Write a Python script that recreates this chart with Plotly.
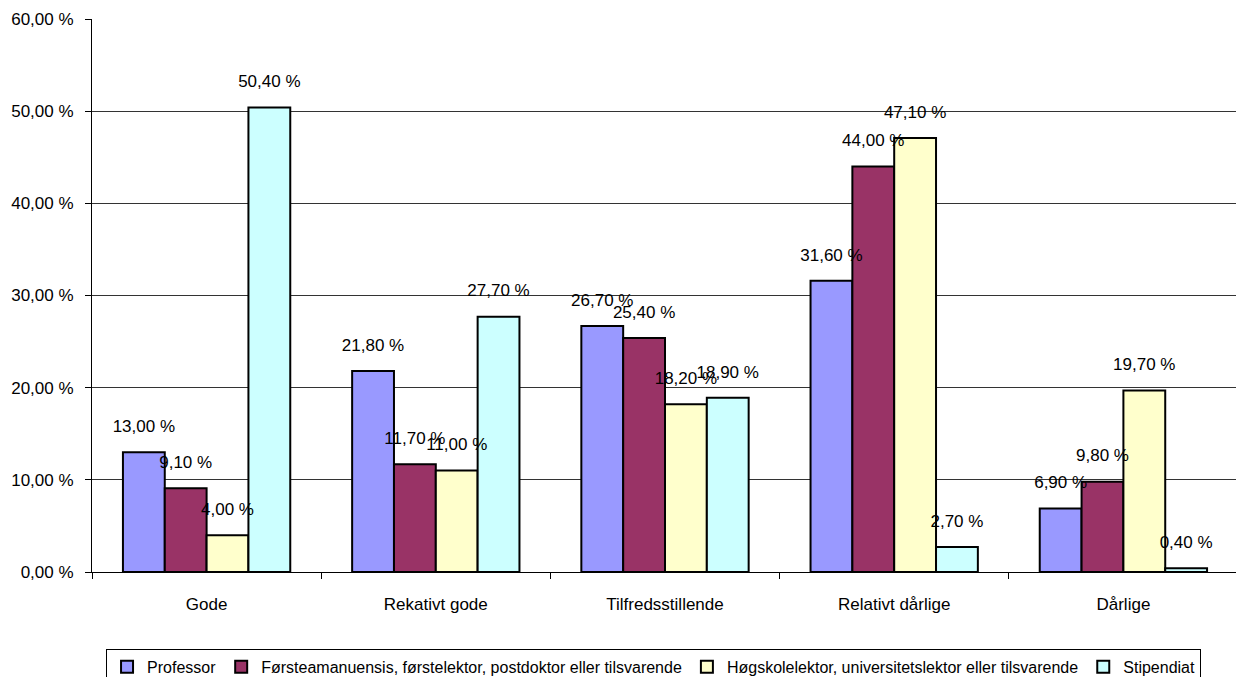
import plotly.graph_objects as go

categories = ["Gode", "Rekativt gode", "Tilfredsstillende", "Relativt dårlige", "Dårlige"]
series_names = [
    "Professor",
    "Førsteamanuensis, førstelektor, postdoktor eller tilsvarende",
    "Høgskolelektor, universitetslektor eller tilsvarende",
    "Stipendiat",
]
professor = [13.0, 21.8, 26.7, 31.6, 6.9]
forsteamanuensis = [9.1, 11.7, 25.4, 44.0, 9.8]
hogskolelektor = [4.0, 11.0, 18.2, 47.1, 19.7]
stipendiat = [50.4, 27.7, 18.9, 2.7, 0.4]
colors = ["#9999FF", "#993366", "#FFFFCC", "#CCFFFF"]
y_ticks = [0, 10, 20, 30, 40, 50, 60]

FONT = "Liberation Sans Narrow, Arial Narrow, Liberation Sans, Arial, sans-serif"

def fmt(v):
    return f"{v:.2f}".replace(".", ",") + " %"

all_series = [professor, forsteamanuensis, hogskolelektor, stipendiat]

fig = go.Figure()
for name, vals, col in zip(series_names, all_series, colors):
    fig.add_trace(go.Bar(
        x=categories, y=vals, name=name,
        marker=dict(color=col, line=dict(color="black", width=2)),
        hoverinfo="x+y+name",
    ))
# value labels, grouped the same way as the bars
for name, vals in zip(series_names, all_series):
    fig.add_trace(go.Scatter(
        x=categories, y=vals, mode="markers+text", showlegend=False,
        marker=dict(size=24, opacity=0), text=[fmt(v) for v in vals],
        textposition="top center", textfont=dict(family=FONT, size=17, color="black"),
        cliponaxis=False, hoverinfo="skip",
    ))

fig.update_layout(
    width=1236, height=670,
    margin=dict(l=84, r=6, t=11, b=106, autoexpand=False),
    paper_bgcolor="white", plot_bgcolor="white",
    barmode="group", bargap=0.27, bargroupgap=0,
    scattermode="group", scattergap=0.27,
    font=dict(family=FONT, size=16, color="black"),
    showlegend=True,
    legend=dict(orientation="h", x=0.49, xanchor="center", y=-0.139, yanchor="top",
                bordercolor="black", borderwidth=1, font=dict(family=FONT, size=16),
                itemwidth=30, tracegroupgap=0, itemsizing="constant"),
    xaxis=dict(showline=True, linecolor="black", linewidth=1, ticks="outside",
               tickson="boundaries", ticklen=6, tickcolor="black", showgrid=False,
               tickfont=dict(family=FONT, size=17), automargin=False,
               ticklabelstandoff=17),
    yaxis=dict(range=[0, 60], tickvals=y_ticks, ticktext=[fmt(v) for v in y_ticks],
               showline=True, linecolor="black", linewidth=1, ticks="outside", ticklen=6,
               tickcolor="black", showgrid=True, gridcolor="#333333", gridwidth=1,
               tickfont=dict(family=FONT, size=17), zeroline=False, automargin=False,
               ticklabelstandoff=8),
)
fig.write_html("out.html")
